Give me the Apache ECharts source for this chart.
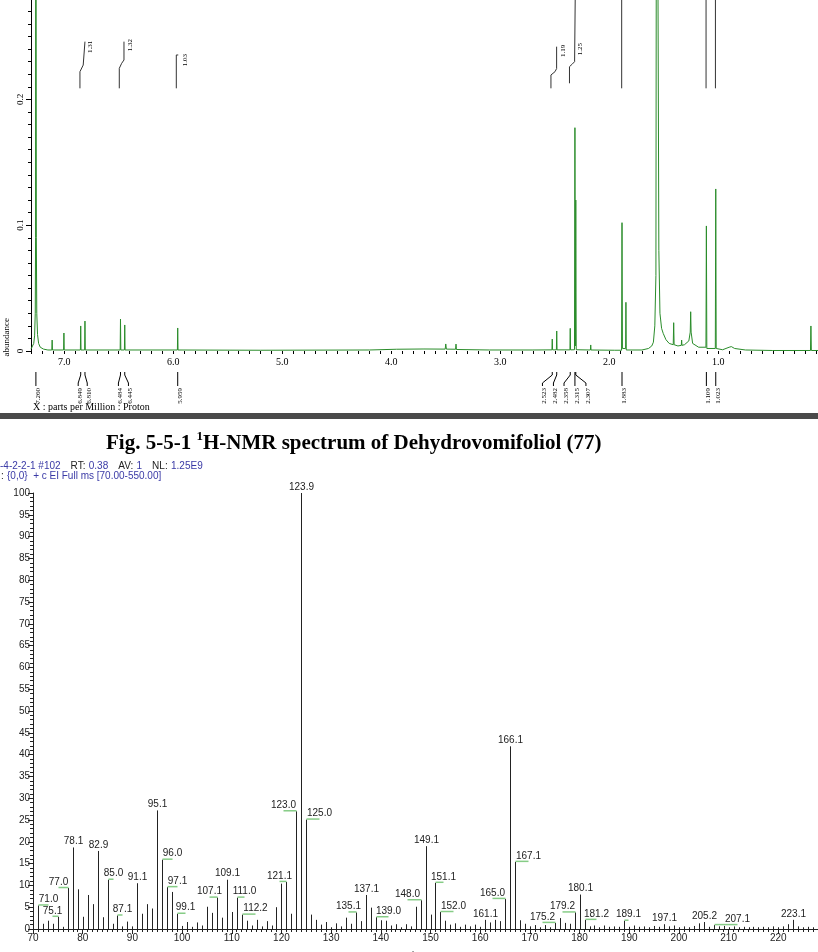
<!DOCTYPE html>
<html>
<head>
<meta charset="utf-8">
<script src="https://cdn.jsdelivr.net/npm/echarts@6/dist/echarts.min.js"></script>
<style>
  html, body { margin: 0; padding: 0; background: #fff; }
  #main { width: 818px; height: 952px; }
</style>
</head>
<body>
<div id="main"></div>
<script>
// ---- 1H-NMR trace (ppm, abundance) ----
var nmrTrace = [
  [7.305, 0.0015], [7.29, 0.003], [7.28, 0.006], [7.272, 0.012], [7.266, 0.03],
  [7.263, 0.09], [7.261, 0.6], [7.259, 0.6], [7.256, 0.09], [7.252, 0.03],
  [7.245, 0.013], [7.235, 0.006], [7.22, 0.003], [7.19, 0.0015], [7.15, 0.0008],
  [7.114, 0.0008], [7.111, 0.0087], [7.108, 0.0008],
  [7.006, 0.0008], [7.003, 0.0143], [7.000, 0.0008],
  [6.852, 0.0008], [6.849, 0.0199], [6.846, 0.0008],
  [6.813, 0.0008], [6.810, 0.0238], [6.807, 0.0008],
  [6.487, 0.0008], [6.484, 0.0254], [6.481, 0.0008],
  [6.448, 0.0008], [6.445, 0.0207], [6.442, 0.0008],
  [5.962, 0.0008], [5.959, 0.0183], [5.956, 0.0008],
  [5.2, 0.0006], [4.2, 0.0008], [3.95, 0.0014], [3.7, 0.0016],
  [3.505, 0.0015], [3.50, 0.0056], [3.494, 0.0015],
  [3.41, 0.0014], [3.406, 0.0055], [3.402, 0.0012],
  [3.1, 0.0008], [2.7, 0.0008],
  [2.526, 0.0009], [2.523, 0.0095], [2.520, 0.0009],
  [2.485, 0.0009], [2.482, 0.0159], [2.479, 0.0009],
  [2.361, 0.0009], [2.358, 0.018], [2.355, 0.0009],
  [2.319, 0.001], [2.315, 0.1775], [2.311, 0.004], [2.307, 0.12], [2.303, 0.001],
  [2.173, 0.0008], [2.170, 0.0048], [2.167, 0.0008],
  [1.95, 0.0006], [1.887, 0.0006], [1.883, 0.102], [1.879, 0.002],
  [1.850, 0.002], [1.847, 0.0387], [1.844, 0.0008],
  [1.70, 0.0008], [1.64, 0.002], [1.61, 0.004], [1.595, 0.007], [1.582, 0.02],
  [1.572, 0.06], [1.565, 0.6], [1.552, 0.6], [1.545, 0.08], [1.535, 0.03],
  [1.52, 0.018], [1.505, 0.014], [1.48, 0.009], [1.45, 0.006],
  [1.413, 0.005], [1.409, 0.0225], [1.405, 0.005],
  [1.37, 0.004], [1.339, 0.0045], [1.336, 0.0087], [1.333, 0.0045], [1.31, 0.005],
  [1.27, 0.008], [1.257, 0.015], [1.253, 0.0312], [1.249, 0.015], [1.235, 0.006],
  [1.18, 0.003], [1.113, 0.003], [1.109, 0.0994], [1.105, 0.002],
  [1.027, 0.002], [1.023, 0.1288], [1.019, 0.002],
  [0.96, 0.001], [0.90, 0.003], [0.88, 0.0035], [0.85, 0.002], [0.75, 0.0008],
  [0.5, 0.0004], [0.154, 0.0004], [0.150, 0.0199], [0.146, 0.0004], [0.085, 0.0004]
];

// picked peaks and where their rotated labels sit (ppm)
var nmrPeakPpm = [7.260, 6.849, 6.810, 6.484, 6.445, 5.959, 2.523, 2.482, 2.358, 2.315, 2.307, 1.883, 1.109, 1.023];
var nmrLabelAt = [7.260, 6.872, 6.789, 6.503, 6.411, 5.959, 2.613, 2.512, 2.415, 2.315, 2.214, 1.883, 1.109, 1.023];

// integral curves
var nmrIntegrals = [
  [[6.856, 0.2088], [6.856, 0.222], [6.826, 0.2273], [6.810, 0.2287], [6.810, 0.2459]],
  [[6.495, 0.2088], [6.495, 0.2247], [6.473, 0.2287], [6.452, 0.2313], [6.452, 0.2459]],
  [[5.972, 0.2088], [5.972, 0.2353], [5.954, 0.2353]],
  [[2.535, 0.2088], [2.535, 0.2194], [2.498, 0.222], [2.483, 0.2245], [2.483, 0.2419]],
  [[2.365, 0.2128], [2.365, 0.226], [2.34, 0.228], [2.318, 0.230], [2.31, 0.3]],
  [[1.886, 0.2088], [1.886, 0.3]],
  [[1.112, 0.2088], [1.112, 0.3]],
  [[1.026, 0.2088], [1.026, 0.3]]
];
var nmrIntegralText = ['1.31', '1.32', '1.03', '1.19', '1.25'];
var nmrIntegralAt = [[6.763, 0.2417], [6.397, 0.2432], [5.892, 0.2313], [2.42, 0.2385], [2.263, 0.24]];

var nmrTickLabels = [1, 2, 3, 4, 5, 6, 7];
var nmrYLabels = [0, 0.1, 0.2];

// ---- EI mass spectrum ----
var msMz = [];
for (var m = 70; m <= 227; m++) msMz.push(m);
var msAbund = [
  2.8, 5.4, 1.2, 1.9, 1.2, 2.8, 0.5, 9.4, 18.7, 9.1,      // 70-79
  2.8, 7.8, 5.7, 17.9, 2.7, 11.3, 1.2, 3.1, 0.6, 1.7,     // 80-89
  0.6, 10.5, 3.5, 5.7, 4.7, 27.2, 15.9, 9.6, 8.5, 3.5,    // 90-99
  0.7, 1.6, 0.5, 1.5, 0.8, 5.1, 3.7, 7.2, 2.6, 11.3,      // 100-109
  3.9, 7.2, 3.3, 1.9, 0.8, 2.1, 0.6, 1.8, 0.8, 5.0,       // 110-119
  10.4, 10.8, 3.5, 27.0, 100, 25.1, 3.3, 2.1, 1.0, 1.6,   // 120-129
  0.4, 1.3, 0.6, 2.6, 1.2, 3.8, 1.8, 7.8, 4.9, 2.7,       // 130-139
  2.0, 1.9, 0.8, 1.1, 0.4, 1.1, 0.6, 5.1, 6.6, 19.0,      // 140-149
  3.3, 10.6, 3.9, 1.9, 1.0, 1.3, 0.5, 1.0, 0.6, 1.0,      // 150-159
  0.5, 2.1, 1.5, 2.1, 1.8, 6.9, 41.9, 15.4, 2.0, 1.2,     // 160-169
  0.6, 0.9, 0.4, 0.9, 0.4, 1.4, 2.5, 1.4, 1.2, 3.8,       // 170-179
  7.9, 2.1, 0.6, 0.8, 0.4, 0.8, 0.5, 0.6, 0.5, 1.9,       // 180-189
  0.5, 0.8, 0.5, 0.6, 0.4, 0.7, 0.5, 1.1, 0.6, 0.8,       // 190-199
  0.4, 0.6, 0.4, 0.7, 1.3, 1.6, 0.5, 0.9, 0.6, 0.7,       // 200-209
  0.4, 0.6, 0.4, 0.5, 0.4, 0.5, 0.4, 0.5, 0.4, 0.6,       // 210-219
  0.4, 0.6, 1.1, 2.1, 0.6, 0.4, 0.5, 0.4                  // 220-227
];
var msLabels = ['71.0', '75.1', '77.0', '78.1', '82.9', '85.0', '87.1', '91.1', '95.1', '96.0',
  '97.1', '99.1', '107.1', '109.1', '111.0', '112.2', '121.1', '123.0', '123.9', '125.0',
  '135.1', '137.1', '139.0', '148.0', '149.1', '151.1', '152.0', '161.1', '165.0', '166.1',
  '167.1', '175.2', '179.2', '180.1', '181.2', '189.1', '197.1', '205.2', '207.1', '223.1'];
// label offsets (px) for labels pushed sideways, joined by a green leader
var msLabelShift = {
  '71.0': 10, '75.1': -6, '77.0': -10, '85.0': 5, '87.1': 5, '96.0': 10, '97.1': 10, '99.1': 8,
  '107.1': -8, '111.0': 7, '112.2': 13, '121.1': -7, '123.0': -13, '125.0': 13, '135.1': -8,
  '139.0': 12, '148.0': -14, '151.1': 8, '152.0': 13, '165.0': -13, '167.1': 13, '175.2': -13,
  '179.2': -13, '181.2': 11, '189.1': 4, '207.1': 23
};

var labelByMz = {};
msLabels.forEach(function (t) { labelByMz[Math.round(parseFloat(t))] = t; });

var nmrTicks = [];
for (var t = 1; t <= 73; t++) nmrTicks.push(t / 10);
var nmrYTicks = [];
for (var k = 0; k <= 27; k++) nmrYTicks.push(k / 100);

var SERIF = '"Liberation Serif", "Times New Roman", serif';
var SANS = '"Liberation Sans", Arial, sans-serif';
var GREEN = '#2a8c2a';

var chart = echarts.init(document.getElementById('main'), null, { renderer: 'canvas' });

var series = [];
series.push({
  type: 'line', xAxisIndex: 0, yAxisIndex: 0, data: nmrTrace, symbol: 'none',
  lineStyle: { color: GREEN, width: 1 }, animation: false, silent: true, z: 3
});
nmrIntegrals.forEach(function (seg) {
  series.push({
    type: 'line', xAxisIndex: 0, yAxisIndex: 0, data: seg, symbol: 'none',
    lineStyle: { color: '#333', width: 1 }, animation: false, silent: true, z: 2
  });
});
// peak pick labels under the axis
series.push({
  type: 'custom', xAxisIndex: 0, yAxisIndex: 0, clip: false, silent: true, animation: false,
  data: nmrPeakPpm.map(function (p, i) { return [p, 0, nmrLabelAt[i]]; }),
  encode: { x: 0, y: 1 },
  renderItem: function (params, api) {
    var p = api.coord([api.value(0), 0]);
    var q = api.coord([api.value(2), 0]);
    var y0 = p[1];
    return {
      type: 'group', children: [
        { type: 'polyline', shape: { points: [[p[0], y0 + 21], [p[0], y0 + 24], [q[0], y0 + 32], [q[0], y0 + 35]] },
          style: { stroke: '#000', fill: null, lineWidth: 1 } },
        { type: 'text', x: q[0] + 2, y: y0 + 37, rotation: Math.PI / 2,
          style: { text: api.value(0).toFixed(3), font: '7px ' + SERIF, fill: '#000', align: 'right', verticalAlign: 'middle' } }
      ]
    };
  }
});
// integral values
series.push({
  type: 'custom', xAxisIndex: 0, yAxisIndex: 0, clip: false, silent: true, animation: false,
  data: nmrIntegralAt.map(function (d, i) { return [d[0], d[1], i]; }),
  renderItem: function (params, api) {
    var c = api.coord([api.value(0), api.value(1)]);
    return { type: 'text', x: c[0], y: c[1], rotation: Math.PI / 2,
      style: { text: nmrIntegralText[api.value(2)], font: '7px ' + SERIF, fill: '#000', align: 'center', verticalAlign: 'middle' } };
  }
});
// mass spectrum sticks
series.push({
  type: 'custom', xAxisIndex: 1, yAxisIndex: 2, clip: false, silent: true, animation: false,
  data: msMz.map(function (mz, i) { return [mz, msAbund[i]]; }),
  renderItem: function (params, api) {
    var mz = api.value(0);
    var b = api.coord([mz, 0]);
    var tp = api.coord([mz, api.value(1)]);
    var x = Math.round(b[0]) + 0.5;
    var kids = [{ type: 'line', shape: { x1: x, y1: b[1], x2: x, y2: tp[1] }, style: { stroke: '#222', lineWidth: 1 } }];
    var lab = labelByMz[mz];
    if (lab) {
      var sh = msLabelShift[lab] || 0;
      if (sh) {
        kids.push({ type: 'line', shape: { x1: x, y1: tp[1] - 0.5, x2: x + sh, y2: tp[1] - 0.5 },
          style: { stroke: '#86cc86', lineWidth: 1.5 } });
      }
      kids.push({ type: 'text', x: x + sh, y: tp[1] - 1,
        style: { text: lab, font: '10px ' + SANS, fill: '#222', align: 'center', verticalAlign: 'bottom' } });
    }
    return { type: 'group', children: kids };
  }
});

var option = {
  animation: false,
  backgroundColor: '#fff',
  grid: [
    { left: 31, top: 0, width: 787, height: 351, outerBoundsMode: 'none' },
    { left: 33, top: 493, width: 795, height: 436, outerBoundsMode: 'none' }
  ],
  xAxis: [
    { gridIndex: 0, type: 'value', inverse: true, min: 0.085, max: 7.305, offset: 5,
      axisLine: { show: false }, splitLine: { show: false },
      axisTick: { show: true, customValues: nmrTicks, length: 3, lineStyle: { color: '#000' } },
      axisLabel: { customValues: nmrTickLabels, margin: 1, fontFamily: SERIF, fontSize: 10, color: '#000',
        formatter: function (v) { return v.toFixed(1); } } },
    { gridIndex: 1, type: 'value', min: 70, max: 230, interval: 10,
      axisLine: { show: true, lineStyle: { color: '#222' } }, splitLine: { show: false },
      axisTick: { show: true, length: 5, lineStyle: { color: '#222' } },
      minorTick: { show: true, splitNumber: 10, length: 3, lineStyle: { color: '#222' } },
      axisLabel: { margin: 4, fontFamily: SANS, fontSize: 10, color: '#222' },
      name: 'm/z', nameLocation: 'middle', nameGap: 22,
      nameTextStyle: { fontFamily: SANS, fontSize: 10, color: '#222', padding: [0, 40, 0, 0] } }
  ],
  yAxis: [
    { gridIndex: 0, type: 'value', min: 0, max: 0.279,
      axisLine: { show: true, lineStyle: { color: '#000' } }, splitLine: { show: false },
      axisTick: { show: true, customValues: nmrYTicks, length: 3, lineStyle: { color: '#000' } },
      axisLabel: { customValues: nmrYLabels, rotate: 90, margin: 6, fontFamily: SERIF, fontSize: 9, color: '#000',
        formatter: function (v) { return v === 0 ? '0' : v.toFixed(1); } } },
    { gridIndex: 0, type: 'value', min: 0, max: 0.279, position: 'left',
      axisLine: { show: false }, splitLine: { show: false }, axisLabel: { show: false },
      axisTick: { show: true, customValues: nmrYLabels, length: 5, lineStyle: { color: '#000' } } },
    { gridIndex: 1, type: 'value', min: 0, max: 100, interval: 5,
      axisLine: { show: true, lineStyle: { color: '#222' } }, splitLine: { show: false },
      axisTick: { show: true, length: 5, lineStyle: { color: '#222' } },
      minorTick: { show: true, splitNumber: 5, length: 3, lineStyle: { color: '#222' } },
      axisLabel: { margin: 3, fontFamily: SANS, fontSize: 10, color: '#222' } }
  ],
  graphic: [
    { type: 'text', left: 2, top: 318, rotation: Math.PI / 2,
      style: { text: 'abundance', font: '9px ' + SERIF, fill: '#000' } },
    { type: 'text', x: 33, y: 407,
      style: { text: 'X : parts per Million : Proton', font: '10px ' + SERIF, fill: '#000', verticalAlign: 'middle' } },
    { type: 'rect', shape: { x: 0, y: 413, width: 818, height: 6 }, style: { fill: '#4a4a4a' } },
    { type: 'text', x: 106, y: 442,
      style: {
        text: '{a|Fig. 5-5-1 }{s|1}{a|H-NMR spectrum of Dehydrovomifoliol (77)}',
        verticalAlign: 'middle',
        rich: {
          a: { fontFamily: SERIF, fontWeight: 'bold', fontSize: 21, fill: '#000', lineHeight: 24, verticalAlign: 'bottom' },
          s: { fontFamily: SERIF, fontWeight: 'bold', fontSize: 13, fill: '#000', lineHeight: 14, verticalAlign: 'top' }
        }
      } },
    { type: 'text', x: 0, y: 466,
      style: {
        text: '{b|-4-2-2-1 #102}   {k|RT:} {b|0.38}   {k|AV:} {b|1}   {k|NL:} {b|1.25E9}',
        verticalAlign: 'middle',
        rich: {
          b: { fontFamily: SANS, fontSize: 10, fill: '#3a3aa6' },
          k: { fontFamily: SANS, fontSize: 10, fill: '#222' }
        }
      } },
    { type: 'text', x: 1, y: 476, style: { text: ':', font: '10px ' + SANS, fill: '#222', verticalAlign: 'middle' } },
    { type: 'text', x: 7, y: 476,
      style: { text: '{0,0}  + c EI Full ms [70.00-550.00]', font: '10px ' + SANS, fill: '#3a3aa6', verticalAlign: 'middle' } }
  ],
  series: series
};
chart.setOption(option);
</script>
</body>
</html>
